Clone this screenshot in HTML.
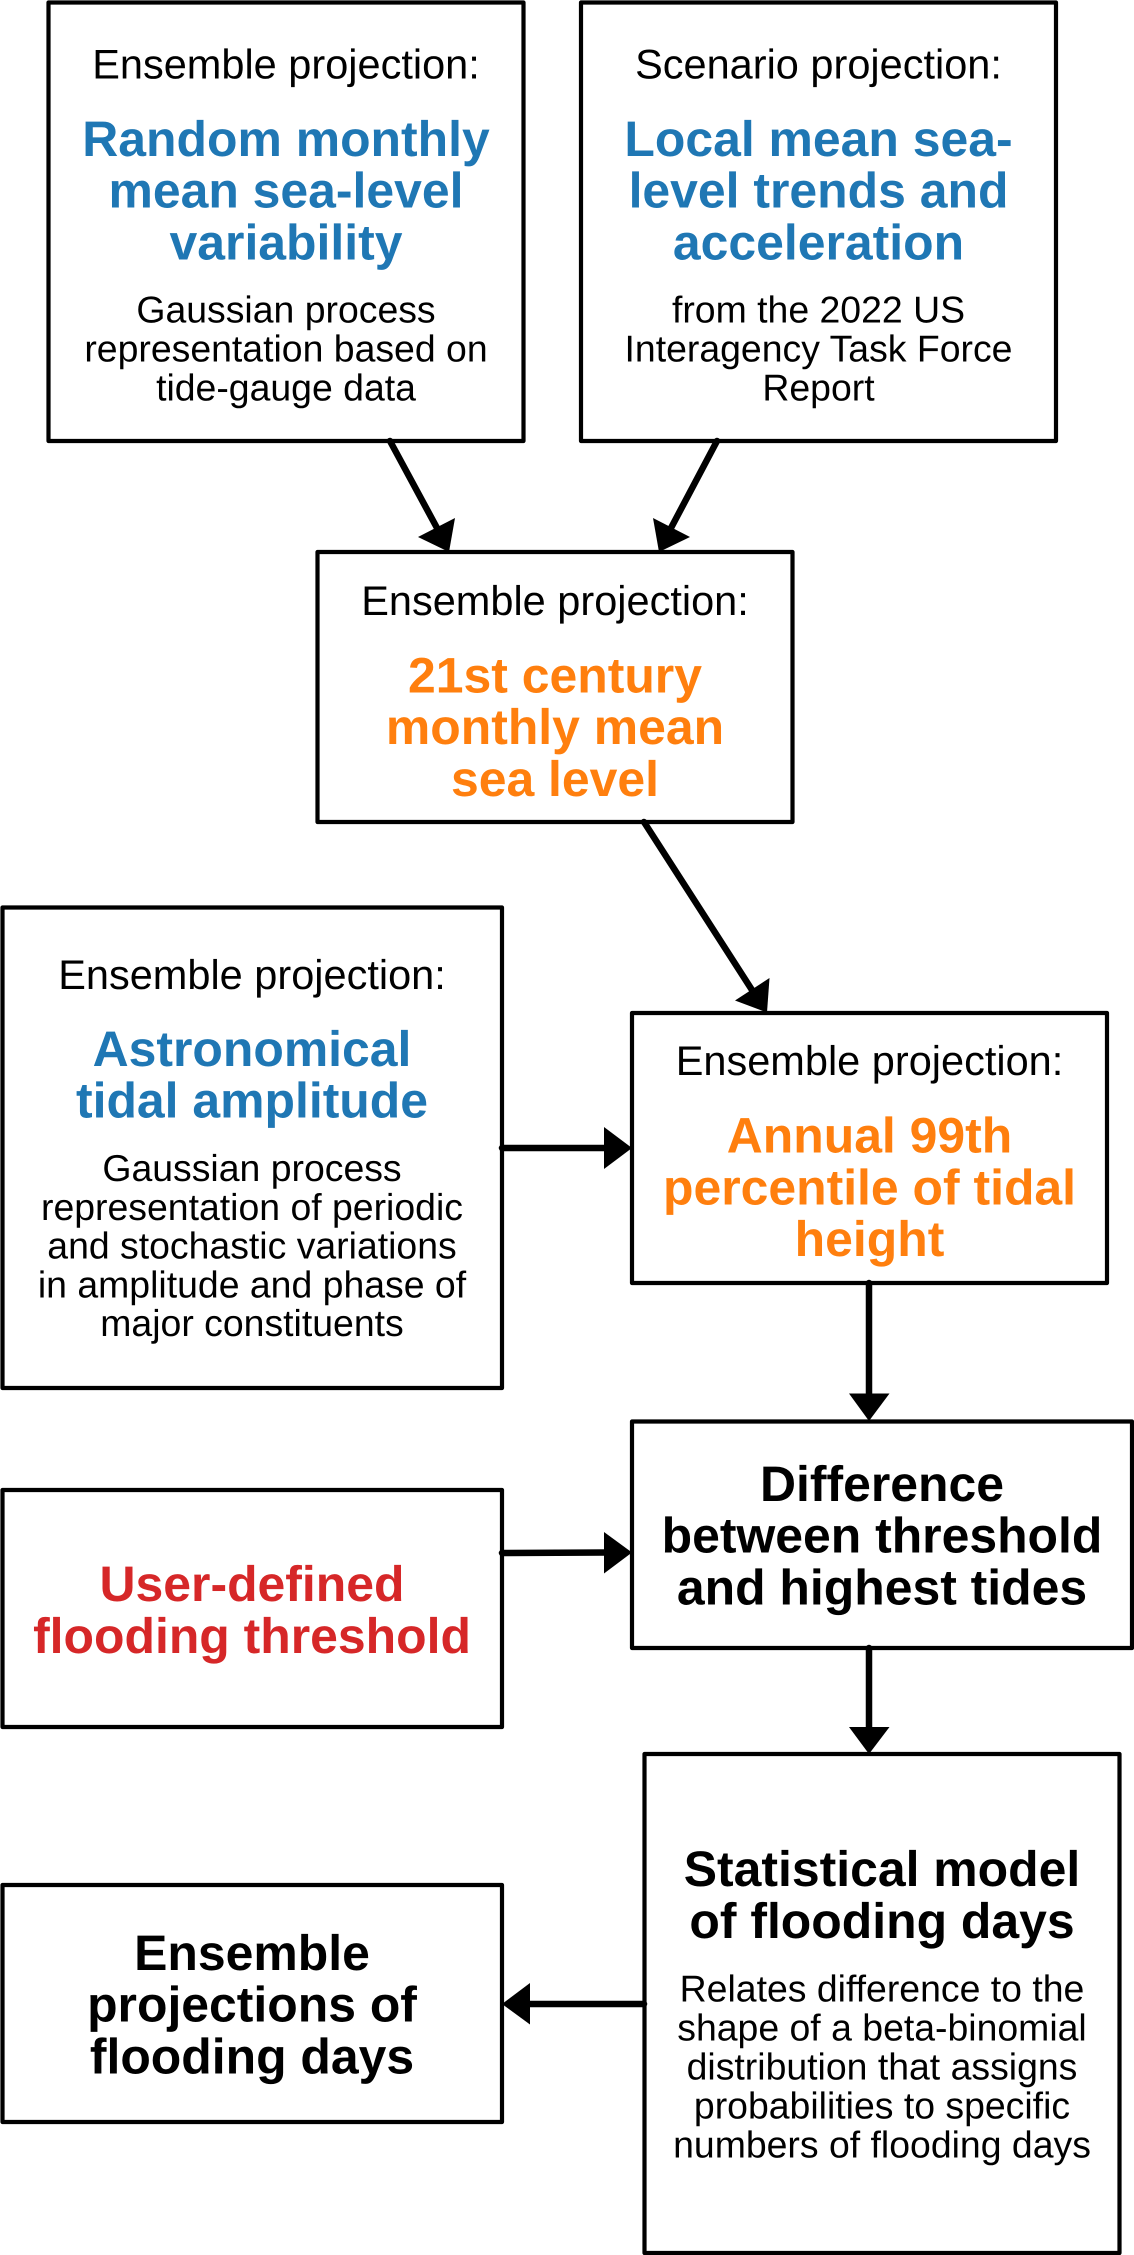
<!DOCTYPE html>
<html lang="en">
<head>
<meta charset="utf-8">
<title>Flooding days projection flowchart</title>
<style>
html,body{margin:0;padding:0;background:#fff;}
svg{display:block;}
text{font-family:"Liberation Sans",Arial,sans-serif;text-anchor:middle;text-rendering:geometricPrecision;}
.n{font-size:41.5px;fill:#000;}
.s{font-size:37.4px;fill:#000;transform:translateY(0.6px);}
.h{font-size:49.9px;font-weight:bold;transform:translateY(1px);}
.b{fill:#1f77b4;}
.o{fill:#ff7f0e;}
.r{fill:#d62728;}
.k{fill:#000;}
rect{fill:#fff;stroke:#000;stroke-width:4.2;stroke-linejoin:round;}
line{stroke:#000;stroke-width:6.5;stroke-linecap:round;}
polygon{fill:#000;}
</style>
</head>
<body>
<svg width="1134" height="2255" viewBox="0 0 1134 2255" xmlns="http://www.w3.org/2000/svg">

<g>
<rect x="48.5" y="2.5" width="475" height="438.5"/>
<text class="n" x="286" y="78.5">Ensemble projection:</text>
<text class="h b" x="286" y="155">Random monthly</text>
<text class="h b" x="286" y="206.7">mean sea-level</text>
<text class="h b" x="286" y="258.4">variability</text>
<text class="s" x="286" y="322">Gaussian process</text>
<text class="s" x="286" y="361">representation based on</text>
<text class="s" x="286" y="400">tide-gauge data</text>
</g>

<g>
<rect x="581" y="2.5" width="475" height="438.5"/>
<text class="n" x="818.5" y="78.5">Scenario projection:</text>
<text class="h b" x="818.5" y="155">Local mean sea-</text>
<text class="h b" x="818.5" y="206.7">level trends and</text>
<text class="h b" x="818.5" y="258.4">acceleration</text>
<text class="s" x="818.5" y="322">from the 2022 US</text>
<text class="s" x="818.5" y="361">Interagency Task Force</text>
<text class="s" x="818.5" y="400">Report</text>
</g>

<g>
<rect x="317.5" y="552" width="475" height="270"/>
<text class="n" x="555" y="615">Ensemble projection:</text>
<text class="h o" x="555" y="691.5">21st century</text>
<text class="h o" x="555" y="743">monthly mean</text>
<text class="h o" x="555" y="795">sea level</text>
</g>

<g>
<rect x="2.5" y="907.5" width="499.5" height="480.5"/>
<text class="n" x="252" y="989">Ensemble projection:</text>
<text class="h b" x="252" y="1065">Astronomical</text>
<text class="h b" x="252" y="1116.7">tidal amplitude</text>
<text class="s" x="252" y="1180.4">Gaussian process</text>
<text class="s" x="252" y="1219.2">representation of periodic</text>
<text class="s" x="252" y="1258">and stochastic variations</text>
<text class="s" x="252" y="1296.8">in amplitude and phase of</text>
<text class="s" x="252" y="1335.5">major constituents</text>
</g>

<g>
<rect x="632" y="1013" width="475" height="270"/>
<text class="n" x="869.5" y="1075">Ensemble projection:</text>
<text class="h o" x="869.5" y="1151.7">Annual 99th</text>
<text class="h o" x="869.5" y="1203.3">percentile of tidal</text>
<text class="h o" x="869.5" y="1255">height</text>
</g>

<g>
<rect x="632" y="1421.5" width="500" height="226.5"/>
<text class="h k" x="882" y="1500">Difference</text>
<text class="h k" x="882" y="1551.7">between threshold</text>
<text class="h k" x="882" y="1603.5">and highest tides</text>
</g>

<g>
<rect x="2.5" y="1490" width="499.5" height="237"/>
<text class="h r" x="252" y="1600">User-defined</text>
<text class="h r" x="252" y="1652">flooding threshold</text>
</g>

<g>
<rect x="644.5" y="1754" width="475" height="499"/>
<text class="h k" x="882" y="1885">Statistical model</text>
<text class="h k" x="882" y="1937">of flooding days</text>
<text class="s" x="882" y="2001">Relates difference to the</text>
<text class="s" x="882" y="2040">shape of a beta-binomial</text>
<text class="s" x="882" y="2079">distribution that assigns</text>
<text class="s" x="882" y="2118">probabilities to specific</text>
<text class="s" x="882" y="2157">numbers of flooding days</text>
</g>

<g>
<rect x="2.5" y="1885" width="499.5" height="237"/>
<text class="h k" x="252" y="1969">Ensemble</text>
<text class="h k" x="252" y="2020.6">projections of</text>
<text class="h k" x="252" y="2072.5">flooding days</text>
</g>

<g>
<line x1="390" y1="441" x2="437" y2="528"/>
<polygon points="449,552 455,518 418,537"/>
</g>
<g>
<line x1="717" y1="441" x2="671" y2="528"/>
<polygon points="659,552 653,518 690,537"/>
</g>
<g>
<line x1="644" y1="822" x2="752" y2="990"/>
<polygon points="767,1012.5 769.5,978 735,1000.5"/>
</g>
<g>
<line x1="502" y1="1148" x2="606" y2="1148"/>
<polygon points="632,1148 604,1127 604,1169"/>
</g>
<g>
<line x1="869" y1="1283" x2="869" y2="1396"/>
<polygon points="869,1421 849,1393.5 889.5,1393.5"/>
</g>
<g>
<line x1="502" y1="1553" x2="606" y2="1552.5"/>
<polygon points="632,1552.5 604,1532 604,1573.5"/>
</g>
<g>
<line x1="869" y1="1648" x2="869" y2="1729"/>
<polygon points="869,1754 849,1727 889.5,1727"/>
</g>
<g>
<line x1="644" y1="2004" x2="528" y2="2004"/>
<polygon points="502,2004 530,1983 530,2024.5"/>
</g>
</svg>
</body>
</html>
